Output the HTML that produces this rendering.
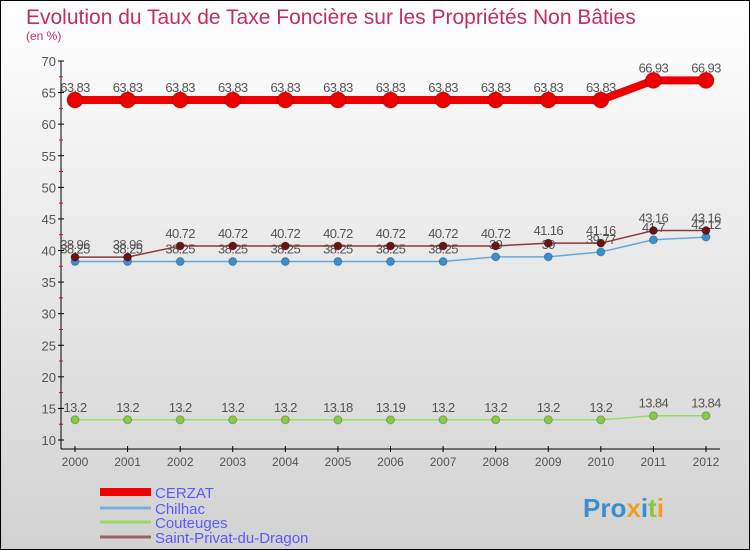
<!DOCTYPE html>
<html><head><meta charset="utf-8"><style>
body{margin:0}
svg{display:block;font-family:"Liberation Sans",sans-serif}
</style></head><body>
<svg id="c" width="750" height="550">
<defs><linearGradient id="bg" x1="0" y1="0" x2="0" y2="1"><stop offset="0" stop-color="#ffffff"/><stop offset="0.4" stop-color="#ececec"/><stop offset="1" stop-color="#d2d2d2"/></linearGradient></defs>
<rect x="0.5" y="0.5" width="749" height="549" fill="url(#bg)" stroke="#000"/>
<text x="26" y="24" font-size="21" fill="#c0305c">Evolution du Taux de Taxe Foncière sur les Propriétés Non Bâties</text>
<text x="26" y="40" font-size="12" fill="#c0305c">(en %)</text>
<g id="axes"></g><g id="series"></g><g id="legend"></g>
<text x="583" y="517" font-size="26" font-weight="bold" fill="#3a8fd0">Pro<tspan fill="#f0a020">x</tspan><tspan fill="#3a8fd0">i</tspan><tspan fill="#8cc63f">t</tspan><tspan fill="#f0a020">i</tspan></text>
</svg>
<script>
const years=[2000,2001,2002,2003,2004,2005,2006,2007,2008,2009,2010,2011,2012];
const yTicks=[10,15,20,25,30,35,40,45,50,55,60,65,70];
const cerzat=[63.83,63.83,63.83,63.83,63.83,63.83,63.83,63.83,63.83,63.83,63.83,66.93,66.93];
const chilhac=[38.25,38.25,38.25,38.25,38.25,38.25,38.25,38.25,39,39,39.77,41.7,42.12];
const couteuges=[13.2,13.2,13.2,13.2,13.2,13.18,13.19,13.2,13.2,13.2,13.2,13.84,13.84];
const stPrivat=[38.96,38.96,40.72,40.72,40.72,40.72,40.72,40.72,40.72,41.16,41.16,43.16,43.16];
const seriesNames=["CERZAT","Chilhac","Couteuges","Saint-Privat-du-Dragon"];
const NS="http://www.w3.org/2000/svg";
const X=i=>75+i*(706-75)/12;
const Y=v=>440-(v-10)*(440-61)/60;
function mk(t,a,p){const e=document.createElementNS(NS,t);for(const k in a)e.setAttribute(k,a[k]);p.appendChild(e);return e;}
const ax=document.getElementById('axes');
const yl=mk('line',{x1:61,y1:61,x2:61,y2:449,stroke:'#000'},ax);


const xl=mk('line',{x1:61,y1:449,x2:720,y2:449,stroke:'#000'},ax);


yTicks.forEach(v=>{
 mk('line',{x1:58,y1:Y(v),x2:64,y2:Y(v),stroke:'#000'},ax);
 if(v<70){mk('line',{x1:59,y1:Y(v+2.5),x2:63,y2:Y(v+2.5),stroke:'#e00'},ax);}
 const t=mk('text',{x:56,y:Y(v)+5,'font-size':13,fill:'#555','text-anchor':'end'},ax);t.textContent=v;
 
 
});
years.forEach((y,i)=>{
 mk('line',{x1:X(i),y1:446,x2:X(i),y2:452,stroke:'#000'},ax);
 const t=mk('text',{x:X(i),y:466,'font-size':12,fill:'#555','text-anchor':'middle'},ax);t.textContent=y;
 
 
});
const sg=document.getElementById('series');
function draw(data,color,w,r,dot,name){
 const g=mk('g',{},sg);
 
 
 mk('polyline',{points:data.map((v,i)=>X(i)+','+Y(v)).join(' '),fill:'none',stroke:color,'stroke-width':w,'stroke-linejoin':'round'},g);
 data.forEach((v,i)=>{
  const c=mk('circle',{cx:X(i),cy:Y(v),r:r,fill:dot,stroke:'rgba(0,0,0,0.25)'},g);
  
  
  const t=mk('text',{x:X(i),y:Y(v)-8,'font-size':13,fill:'#555','text-anchor':'middle','letter-spacing':'-0.6'},g);
  t.textContent=String(v);
  
  
 });
}
draw(couteuges,'#99dd66',1.5,4,'#88cc44','couteuges-series');
draw(chilhac,'#66aadd',1.5,4,'#3a8fd0','chilhac-series');
draw(stPrivat,'#8a3a3a',1.5,4,'#6a1515','saint-privat-series');
draw(cerzat,'#ee0000',8,8,'#ee0000','cerzat-series');
const lg=document.getElementById('legend');
const lc=['#ee0000','#7ab0d8','#99dd66','#a06060'],lw=[8,3,3,3],ly=[492,508,522,537];
seriesNames.forEach((n,i)=>{
 const g=mk('g',{},lg);
 
 
 mk('line',{x1:100,y1:ly[i],x2:151,y2:ly[i],stroke:lc[i],'stroke-width':lw[i]},g);
 const t=mk('text',{x:155,y:ly[i]+6,'font-size':15,fill:'#5a5aff'},g);t.textContent=n;
});
</script>
</body></html>
